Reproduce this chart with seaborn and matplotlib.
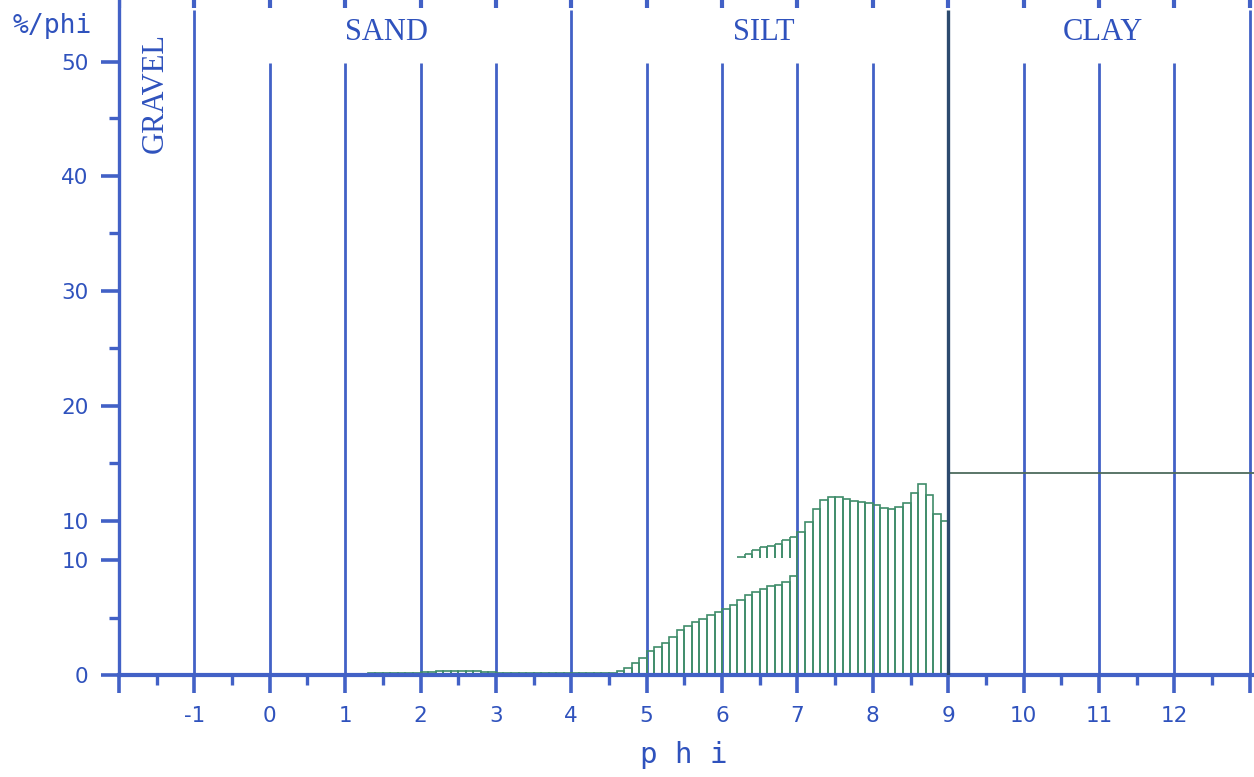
import numpy as np
import pandas as pd
import matplotlib
matplotlib.use("Agg")
import matplotlib.pyplot as plt
import seaborn as sns

# grain size histogram, %/phi for each 0.1 phi class starting at -2 phi
# (values read on the scan's own vertical scale)
phi_start = -2.0
phi_step = 0.1
pct = [
    0.05, 0.05, 0.05, 0.05, 0.05, 0.05, 0.05, 0.05, 0.05, 0.05,   # -2 .. -1
    0.05, 0.05, 0.05, 0.05, 0.05, 0.05, 0.05, 0.05, 0.05, 0.05,   # -1 .. 0
    0.05, 0.05, 0.05, 0.05, 0.05, 0.05, 0.05, 0.05, 0.05, 0.05,   # 0 .. 1
    0.1, 0.1, 0.1, 0.15, 0.15, 0.15, 0.15, 0.15, 0.15, 0.2,       # 1 .. 2
    0.3, 0.3, 0.35, 0.35, 0.35, 0.35, 0.35, 0.35, 0.3, 0.25,      # 2 .. 3
    0.15, 0.15, 0.15, 0.15, 0.15, 0.2, 0.2, 0.2, 0.2, 0.2,        # 3 .. 4
    0.15, 0.15, 0.15, 0.15, 0.15, 0.2, 0.35, 0.65, 1.05, 1.5,     # 4 .. 5
    2.1, 2.4, 2.8, 3.3, 3.9, 4.3, 4.6, 4.9, 5.2, 5.5,             # 5 .. 6
    5.75, 6.1, 6.5, 7.0, 7.2, 7.5, 7.7, 7.8, 8.1, 8.6,            # 6 .. 7
    12.4, 13.3, 14.4, 15.2, 15.45, 15.45, 15.3, 15.15, 15.05, 14.95,  # 7 .. 8
    14.75, 14.5, 14.4, 14.6, 15.0, 15.8, 16.6, 15.65, 14.0, 13.4,     # 8 .. 9
]

# strip of bars the scan repeats, hanging over 6.2 - 7.0 phi
float_left = [6.2, 6.3, 6.4, 6.5, 6.6, 6.7, 6.8, 6.9]
float_top = [10.25, 10.5, 10.9, 11.1, 11.2, 11.4, 11.7, 12.0]
float_base = 10.2

# clay fraction, one flat class
clay_pct = 17.55
clay_range = (9, 14)

class_names = ["GRAVEL", "SAND", "SILT", "CLAY"]
class_bounds = [-2, -1, 4, 9, 13]

phi_ticks = list(range(-2, 14))
phi_labels = [""] + [str(p) for p in range(-1, 13)] + [""]
# the scan shows "10" twice, the upper part of the scale is shifted
y_tick_pos = [0, 10, 13.4, 23.4, 33.4, 43.4, 53.3]
y_tick_labels = ["0", "10", "10", "20", "30", "40", "50"]
y_minor_pos = [5, 18.4, 28.4, 38.4, 48.4]

BLUE = "#4261c6"
TEXT = "#2f52bd"
GREEN = "#3f8c6a"
DARK = "#2c4a6e"
CLAYC = "#4d6b5d"

sns.set_theme(style="white")
plt.rcParams["font.family"] = ["DejaVu Sans"]

fig = plt.figure(figsize=(12.54, 7.77), dpi=100)
ax = fig.add_axes([119 / 1254, 102 / 777, 1136 / 1254, 675 / 777])

# vertical class / phi lines
inner = [p for p in range(-1, 14) if p not in class_bounds]
ax.vlines(inner, 0, 53.2, color=BLUE, lw=2.0, zorder=1)
ax.vlines([-1, 4, 13], 0, 57.8, color=BLUE, lw=2.0, zorder=1)
ax.vlines([9], 0, 57.8, color=DARK, lw=2.4, zorder=3)
ax.vlines(phi_ticks, 58.0, 58.7, color=BLUE, lw=3, zorder=1)

edges = [phi_start + phi_step * i for i in range(len(pct) + 1)]
df = pd.DataFrame({"phi": [e + phi_step / 2 for e in edges[:-1]], "pct": pct})
sns.histplot(data=df, x="phi", weights="pct", bins=edges, fill=False, element="bars",
             color=GREEN, linewidth=1.2, ax=ax)

fl = np.array(float_left)
ax.vlines(np.concatenate([fl[1:], fl + phi_step]), float_base,
          np.concatenate([float_top[1:], float_top]), color=GREEN, lw=1.2, zorder=2)
ax.hlines(float_top, fl, fl + phi_step, color=GREEN, lw=1.2, zorder=2)

ax.hlines(clay_pct, clay_range[0], clay_range[1], color=CLAYC, lw=1.3, zorder=2)

# class names
mids = [(a + b) / 2 for a, b in zip(class_bounds[:-1], class_bounds[1:])]
serif = dict(family=["Liberation Serif", "DejaVu Serif"], size=22, color=TEXT)
ax.text(mids[0] - 0.02, 50.6, class_names[0], rotation=90, ha="center", va="center", **serif)
for name, m in zip(class_names[1:], mids[1:]):
    ax.text(m + 0.05, 55.9, name, ha="center", va="center", **serif)

ax.set_xlim(-2, 13.07)
ax.set_ylim(0, 58.7)
ax.set_xticks(phi_ticks)
ax.set_xticklabels(phi_labels)
ax.set_xticks(np.arange(-1.5, 13, 1.0), minor=True)
ax.set_yticks(y_tick_pos)
ax.set_yticklabels(y_tick_labels)
ax.set_yticks(y_minor_pos, minor=True)
ax.set_xlabel("")
ax.set_ylabel("")

ax.tick_params(axis="both", which="major", bottom=True, left=True, length=13, width=2.6,
               color=BLUE, labelcolor=TEXT, labelsize=15.5, pad=9)
ax.tick_params(axis="both", which="minor", bottom=True, left=True, length=7, width=2.4,
               color=BLUE)

for s in ["top", "right"]:
    ax.spines[s].set_visible(False)
ax.spines["left"].set_color(BLUE)
ax.spines["left"].set_linewidth(2.4)
ax.spines["bottom"].set_color(BLUE)
ax.spines["bottom"].set_linewidth(3)
ax.set_facecolor("white")

mono = dict(family=["DejaVu Sans Mono"], color=TEXT)
fig.text(52 / 1254, 1 - 26 / 777, "%/phi", ha="center", va="center", size=19, **mono)
fig.text(684 / 1254, 1 - 755 / 777, "p h i", ha="center", va="center", size=21, **mono)

fig.savefig("out.png", dpi=100, facecolor="white")
